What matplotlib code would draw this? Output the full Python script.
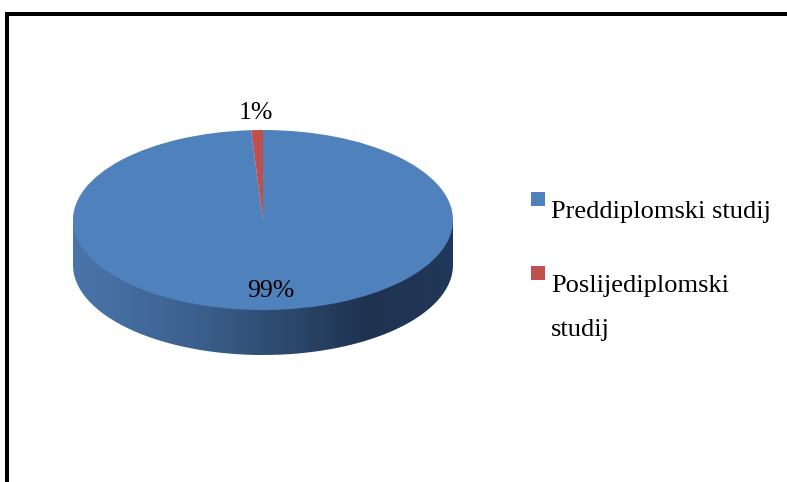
import numpy as np
import matplotlib
matplotlib.use('Agg')
import matplotlib.pyplot as plt
from matplotlib.patches import Rectangle, PathPatch
from matplotlib.path import Path
from matplotlib.lines import Line2D
from matplotlib.colors import LinearSegmentedColormap

categories = ['Preddiplomski studij', 'Poslijediplomski\nstudij']
values = [99, 1]
colors = ['#4f81bd', '#c0504d']

W, H = 787, 482
fig = plt.figure(figsize=(W / 100, H / 100), dpi=100)
FONT = 'Liberation Serif'

# pie geometry in pixels (from top)
cx, cy = 263, 220
rx, ry = 190, 90
depth = 45
left_px, right_px = 63, 463
top_px, bot_px = 100, 390
ax = fig.add_axes([left_px / W, (H - bot_px) / H,
                   (right_px - left_px) / W, (bot_px - top_px) / H])

wedges, _ = ax.pie(values, colors=colors, startangle=90, counterclock=False,
                   radius=1, center=(0, 0), wedgeprops=dict(linewidth=0))
for w in wedges:
    w.set_zorder(3)

# 3D side
d = depth / ry
th = np.linspace(np.pi, 2 * np.pi, 200)
verts = [(-1, 0)] + list(zip(np.cos(th), np.sin(th) - d)) + [(1, 0), (-1, 0)]
codes = [Path.MOVETO] + [Path.LINETO] * (len(verts) - 2) + [Path.CLOSEPOLY]
side = PathPatch(Path(verts, codes), facecolor='none', edgecolor='none')
ax.add_patch(side)
cmap = LinearSegmentedColormap.from_list(
    'side', [(0, '#4a75aa'), (0.3, '#3d6291'), (0.55, '#2d4a6e'),
             (0.78, '#1f3250'), (1, '#22385a')])
grad = np.linspace(0, 1, 256).reshape(1, -1)
im = ax.imshow(grad, cmap=cmap, extent=(-1, 1, -1 - d, 0), aspect='auto',
               zorder=2, interpolation='bilinear')
im.set_clip_path(side)

ax.set_aspect('auto')
ax.set_xlim((left_px - cx) / rx, (right_px - cx) / rx)
ax.set_ylim((cy - bot_px) / ry, (cy - top_px) / ry)
ax.axis('off')

# data labels
ax.text((271 - cx) / rx, (cy - 297) / ry, f"{values[0]}%", ha='center',
        va='baseline', fontsize=18.5, family=FONT, zorder=5)
ax.text((256 - cx) / rx, (cy - 119) / ry, f"{values[1]}%", ha='center',
        va='baseline', fontsize=18.5, family=FONT, zorder=5)

# legend
sq_tops = [192, 266]
base_lines = [218, 292]
for cat, col, st, bl in zip(categories, colors, sq_tops, base_lines):
    fig.add_artist(Rectangle((531 / W, (H - st - 14) / H), 14 / W, 14 / H,
                             transform=fig.transFigure, facecolor=col,
                             edgecolor='none'))
    for i, line in enumerate(cat.split('\n')):
        fig.text(551 / W, (H - bl - i * 44) / H, line, ha='left',
                 va='baseline', fontsize=19, family=FONT)

# border
lw = 4 * 72 / 100
fig.add_artist(Line2D([6.5 / W, 6.5 / W], [(H - 11.5) / H, 0],
                      transform=fig.transFigure, color='black', lw=lw,
                      solid_capstyle='butt'))
fig.add_artist(Line2D([4.5 / W, 1], [(H - 13.5) / H, (H - 13.5) / H],
                      transform=fig.transFigure, color='black', lw=lw,
                      solid_capstyle='butt'))

fig.savefig('out.png', dpi=100)
